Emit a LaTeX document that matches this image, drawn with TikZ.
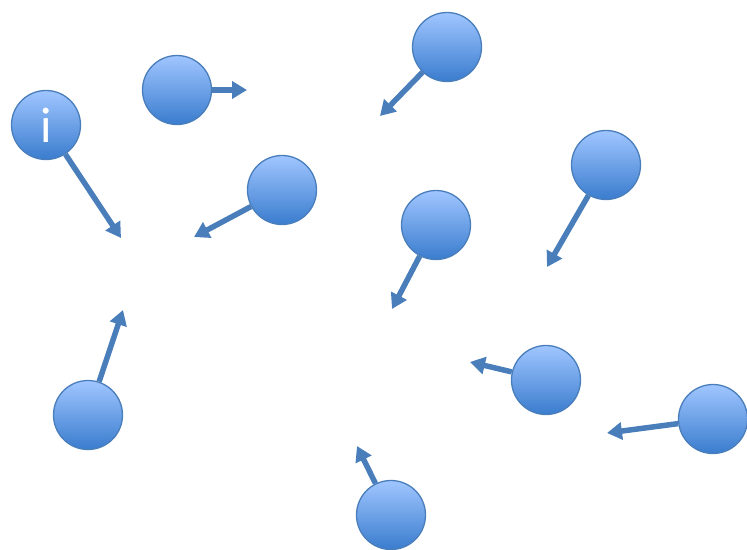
\documentclass[tikz,border=0pt]{standalone}
\usepackage{fontspec}
\setmainfont{Carlito}
\usetikzlibrary{arrows.meta}
\definecolor{ballTop}{RGB}{160,198,255}
\definecolor{ballBot}{RGB}{58,124,206}
\definecolor{ballEdge}{RGB}{74,126,187}
\definecolor{arr}{RGB}{74,126,187}
\tikzset{
  ball/.style={circle, minimum size=69pt, inner sep=0pt, draw=ballEdge, line width=1.3pt,
    top color=ballTop, bottom color=ballBot, text=white, font=\fontsize{50}{50}\selectfont},
  push/.style={draw=arr, line width=5.5pt, -{Triangle[length=15pt,width=17pt]}}
}
\begin{document}
\begin{tikzpicture}[x=1pt,y=-1pt]
\useasboundingbox (0,0) rectangle (747,549);
% end points
\coordinate (e1) at (121,238);
\coordinate (e2) at (247,90);
\coordinate (e3) at (380,116);
\coordinate (e4) at (194,237);
\coordinate (e5) at (547,267);
\coordinate (e6) at (392,309);
\coordinate (e7) at (123,310);
\coordinate (e8) at (470,362);
\coordinate (e9) at (607,433);
\coordinate (e10) at (357,446);
\node[ball] (b1) at (46,125) {\raisebox{-2pt}{i}};
\node[ball] (b2) at (177,90) {};
\node[ball] (b3) at (447,47) {};
\node[ball] (b4) at (282,190) {};
\node[ball] (b5) at (606,165) {};
\node[ball] (b6) at (436,225) {};
\node[ball] (b7) at (88,415) {};
\node[ball] (b8) at (546,380) {};
\node[ball] (b9) at (713,419) {};
\node[ball] (b10) at (391,515) {};
\foreach \i in {1,...,10} {
  \draw[push] (b\i) -- (e\i);
}
\end{tikzpicture}
\end{document}
